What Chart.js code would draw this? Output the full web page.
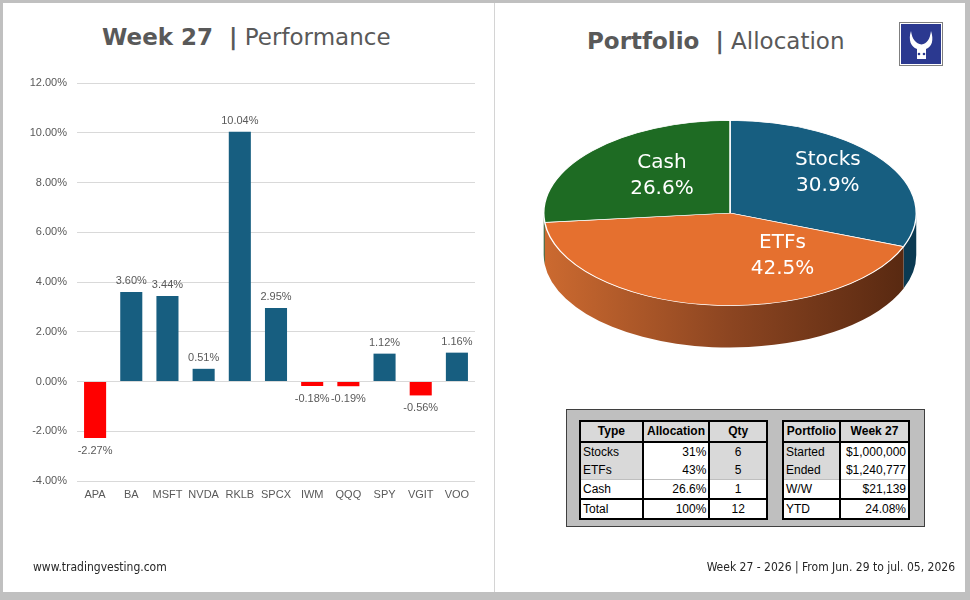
<!DOCTYPE html>
<html>
<head>
<meta charset="utf-8">
<script src="https://cdn.jsdelivr.net/npm/chart.js@4.4.1/dist/chart.umd.min.js"></script>
<style>
  html, body { margin: 0; padding: 0; }
  body { width: 970px; height: 600px; background: #c0c0c0; position: relative; overflow: hidden; font-family: "DejaVu Sans", Verdana, sans-serif; }
  #sheet { position: absolute; left: 3px; top: 3px; width: 962px; height: 589px; background: #fff; }
  #divider { position: absolute; left: 494px; top: 3px; width: 1px; height: 589px; background: #d4d4d4; }
  .title { position: absolute; top: 24px; font-size: 23px; color: #595959; white-space: pre; }
  .title b { font-weight: bold; }
  #barWrap { position: absolute; left: 0; top: 0; width: 494px; height: 592px; }
  #pieWrap { position: absolute; left: 496px; top: 0; width: 469px; height: 400px; }
  #logo { position: absolute; left: 899px; top: 22px; }
  #tblBox { position: absolute; left: 566px; top: 409px; width: 357px; height: 116px; background: #bfbfbf; border: 1px solid #3f3f3f; }
  table.t { position: absolute; border-collapse: collapse; font-family: "Liberation Sans", Arial, sans-serif; font-size: 12px; color: #000; background: #fff; border: 2px solid #000; }
  table.t td, table.t th { padding: 0 2px; height: 18px; line-height: 17px; border-left: 2px solid #000; border-right: 2px solid #000; }
  table.t th { background: #d9d9d9; font-weight: bold; text-align: center; border-bottom: 2px solid #000; height: 19px; }
  table.t td.g { background: #d9d9d9; }
  table.t td.r { text-align: right; }
  table.t td.c { text-align: center; }
  table.t tr.sep td { border-top: 2px solid #000; }
  table.t tr.thin td { border-top: 1px solid #bfbfbf; }
  .foot { position: absolute; top: 560px; font-family: "Liberation Sans Narrow", "DejaVu Sans Condensed", "Liberation Sans", sans-serif; font-size: 12px; color: #262626; white-space: nowrap; }
</style>
</head>
<body>
<div id="sheet"></div>
<div id="divider"></div>

<div class="title" style="left:102px;"><b>Week 27  |</b> Performance</div>
<div class="title" style="left:587px; top:28px;"><b>Portfolio  |</b> Allocation</div>

<div id="logo">
  <svg width="44" height="44" viewBox="0 0 44 44">
    <rect x="0.5" y="0.5" width="43" height="43" fill="#fff" stroke="#7f7f7f"/>
    <rect x="2" y="2" width="40" height="40" fill="#2b3990"/>
    <path d="M12 9 C9 18 12 25 18 27 L18 37 L27 37 L27 27 C33 25 35 18 32 9 C31 17 28 22 22.5 22.5 C17 22 13 17 12 9Z" fill="#fff"/>
    <circle cx="20" cy="32" r="1.3" fill="#2b3990"/><circle cx="25" cy="32" r="1.3" fill="#2b3990"/>
  </svg>
</div>

<div id="barWrap"><canvas id="barChart"></canvas></div>
<div id="pieWrap"><canvas id="pieChart"></canvas></div>

<div id="tblBox"></div>
<table class="t" style="left:579px; top:420px; width:189px;">
  <colgroup><col style="width:62px"><col style="width:66px"><col style="width:57px"></colgroup>
  <tbody id="allocBody"></tbody>
</table>
<table class="t" style="left:782px; top:420px; width:128px;">
  <colgroup><col style="width:57px"><col style="width:69px"></colgroup>
  <tbody id="perfBody"></tbody>
</table>

<div class="foot" style="left:33px;">www.tradingvesting.com</div>
<div class="foot" style="right:15px;">Week 27 - 2026 | From Jun. 29 to jul. 05, 2026</div>

<script>
// weekly performance (bar chart)
const tickers = ['APA', 'BA', 'MSFT', 'NVDA', 'RKLB', 'SPCX', 'IWM', 'QQQ', 'SPY', 'VGIT', 'VOO'];
const weeklyReturns = [-2.27, 3.60, 3.44, 0.51, 10.04, 2.95, -0.18, -0.19, 1.12, -0.56, 1.16];
const yMin = -4, yMax = 12, yStep = 2;

// allocation (pie)
const allocLabels = ['Stocks', 'ETFs', 'Cash'];
const allocShares = [30.9, 42.5, 26.6];

// tables
const allocHead = ['Type', 'Allocation', 'Qty'];
const allocTypes = ['Stocks', 'ETFs', 'Cash', 'Total'];
const allocPct = ['31%', '43%', '26.6%', '100%'];
const allocQty = ['6', '5', '1', '12'];
const perfHead = ['Portfolio', 'Week 27'];
const perfItems = ['Started', 'Ended', 'W/W', 'YTD'];
const perfValues = ['$1,000,000', '$1,240,777', '$21,139', '24.08%'];

const BLUE = '#175e80', RED = '#ff0000', GREY_TXT = '#595959';

// ---- tables ----
function rowClass(i) { return i === 3 ? 'sep' : (i === 2 ? 'thin' : ''); }
let html = '<tr>' + allocHead.map(h => '<th>' + h + '</th>').join('') + '</tr>';
allocTypes.forEach((t, i) => {
  const g = i < 2 ? ' g' : '';
  html += '<tr class="' + rowClass(i) + '"><td class="' + g + '">' + t + '</td><td class="r">' + allocPct[i] +
          '</td><td class="c' + g + '">' + allocQty[i] + '</td></tr>';
});
document.getElementById('allocBody').innerHTML = html;

html = '<tr>' + perfHead.map(h => '<th>' + h + '</th>').join('') + '</tr>';
perfItems.forEach((t, i) => {
  const g = i < 2 ? 'g' : '';
  html += '<tr class="' + rowClass(i) + '"><td class="' + g + '">' + t + '</td><td class="r">' + perfValues[i] + '</td></tr>';
});
document.getElementById('perfBody').innerHTML = html;

// ---- bar chart ----
const barLabels = {
  id: 'barLabels',
  afterDatasetsDraw(chart) {
    const ctx = chart.ctx;
    const meta = chart.getDatasetMeta(0);
    ctx.save();
    ctx.font = '11px "Liberation Sans", Arial, sans-serif';
    ctx.fillStyle = GREY_TXT;
    ctx.textAlign = 'center';
    ctx.textBaseline = 'middle';
    meta.data.forEach((bar, i) => {
      const v = weeklyReturns[i];
      const y = v >= 0 ? bar.y - 11 : bar.y + 13;
      ctx.fillText(v.toFixed(2) + '%', bar.x, y);
    });
    ctx.restore();
  }
};

new Chart(document.getElementById('barChart'), {
  type: 'bar',
  data: {
    labels: tickers,
    datasets: [{
      data: weeklyReturns,
      backgroundColor: weeklyReturns.map(v => v < 0 ? RED : BLUE),
      barPercentage: 0.61,
      categoryPercentage: 1.0
    }]
  },
  options: {
    responsive: true,
    maintainAspectRatio: false,
    animation: false,
    layout: { padding: { left: 0, top: 83, right: 19, bottom: 81 } },
    plugins: { legend: { display: false }, tooltip: { enabled: false } },
    scales: {
      x: {
        grid: { display: false, drawTicks: false },
        border: { display: false },
        ticks: {
          color: GREY_TXT, font: { family: '"Liberation Sans", Arial, sans-serif', size: 11 },
          padding: 7, maxRotation: 0, minRotation: 0, autoSkip: false
        },
        afterFit(scale) { scale.height = 30; }
      },
      y: {
        min: yMin, max: yMax,
        grid: { color: '#d9d9d9', drawTicks: false },
        border: { display: false },
        ticks: {
          stepSize: yStep, color: GREY_TXT, padding: 10,
          font: { family: '"Liberation Sans", Arial, sans-serif', size: 11 },
          callback: v => v.toFixed(2) + '%'
        },
        afterFit(scale) { scale.width = 77; }
      }
    }
  },
  plugins: [barLabels]
});

// ---- 3D-ish pie ----
const pieColors = ['#175e80', '#e5702f', '#1e6b23'];
const SQUASH = 0.497, DEPTH = 42;

const pie3d = {
  id: 'pie3d',
  beforeDatasetsDraw(chart) {
    const ctx = chart.ctx;
    const arcs = chart.getDatasetMeta(0).data;
    arcs.forEach((a, i) => {
      const a0 = Math.max(a.startAngle, 0), a1 = Math.min(a.endAngle, Math.PI);
      if (a1 <= a0) return;
      const R = a.outerRadius, ry = R * SQUASH;
      let fill;
      if (i === 1) {
        fill = ctx.createLinearGradient(a.x - R, 0, a.x + R, 0);
        fill.addColorStop(0, '#cc6a30');
        fill.addColorStop(0.5, '#8c4521');
        fill.addColorStop(1, '#552710');
      } else if (i === 0) {
        fill = '#0b3a52';
      } else {
        fill = '#124516';
      }
      ctx.save();
      ctx.beginPath();
      ctx.ellipse(a.x, a.y, R, ry, 0, a0, a1);
      ctx.ellipse(a.x, a.y + DEPTH, R, ry, 0, a1, a0, true);
      ctx.closePath();
      ctx.fillStyle = fill;
      ctx.fill();
      ctx.restore();
    });
    const c = arcs[0];
    ctx.save();
    ctx.translate(0, c.y);
    ctx.scale(1, SQUASH);
    ctx.translate(0, -c.y);
  },
  afterDatasetsDraw(chart, args, opts) {
    const ctx = chart.ctx;
    ctx.restore();
    const arcs = chart.getDatasetMeta(0).data;
    ctx.save();
    ctx.font = '20px "DejaVu Sans", Verdana, sans-serif';
    ctx.fillStyle = '#ffffff';
    ctx.textAlign = 'center';
    ctx.textBaseline = 'middle';
    arcs.forEach((a, i) => {
      const p = a.tooltipPosition();
      const off = opts.offsets[i];
      const x = p.x + off[0];
      const y = a.y + (p.y - a.y) * SQUASH + off[1];
      ctx.fillText(allocLabels[i], x, y - 13);
      ctx.fillText(allocShares[i].toFixed(1) + '%', x, y + 13);
    });
    ctx.restore();
  }
};

new Chart(document.getElementById('pieChart'), {
  type: 'pie',
  data: {
    labels: allocLabels,
    datasets: [{
      data: allocShares,
      backgroundColor: pieColors,
      borderColor: '#ffffff',
      borderWidth: 1.5
    }]
  },
  options: {
    responsive: true,
    maintainAspectRatio: false,
    animation: false,
    layout: { padding: { left: 47, right: 48, top: 26, bottom: 0 } },
    plugins: {
      legend: { display: false },
      tooltip: { enabled: false },
      pie3d: { offsets: [[21, -14], [65, -3], [1, -6]] }
    }
  },
  plugins: [pie3d]
});
</script>
</body>
</html>
